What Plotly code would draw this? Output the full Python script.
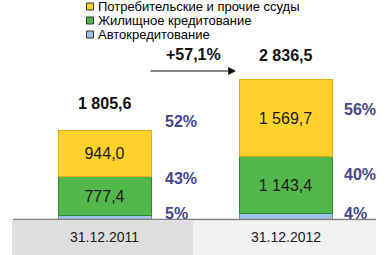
import plotly.graph_objects as go

# ---- data ----
categories = ["31.12.2011", "31.12.2012"]
series_names = ["Автокредитование", "Жилищное кредитование", "Потребительские и прочие ссуды"]
auto_vals = [84.2, 123.4]
housing_vals = [777.4, 1143.4]
consumer_vals = [944.0, 1569.7]
totals = [1805.6, 2836.5]
share_labels = {
    "consumer": ["52%", "56%"],
    "housing": ["43%", "40%"],
    "auto": ["5%", "4%"],
}
growth_label = "+57,1%"

colors = ["#9DC3E6", "#52B84C", "#FFD12A"]
line_colors = ["#6A8FB5", "#2F8A36", "#E0AC10"]

W, H = 387, 255
Y0_PX = 219.5          # pixel row of value 0
PX_PER_UNIT = 0.04943  # pixels per value unit
y_top = Y0_PX / PX_PER_UNIT
y_bot = -(H - Y0_PX) / PX_PER_UNIT

X0_PX = 104.5
X_STEP = 181.0
x_lo = -X0_PX / X_STEP
x_hi = (W - X0_PX) / X_STEP


def fmt(v):
    return f"{v:,.1f}".replace(",", " ").replace(".", ",")


def py2val(py):
    return (Y0_PX - py) / PX_PER_UNIT


FONT = "Liberation Sans, Arial, sans-serif"

fig = go.Figure()
series = [auto_vals, housing_vals, consumer_vals]
for i, (name, vals) in enumerate(zip(series_names, series)):
    fig.add_trace(go.Bar(
        x=categories, y=vals, name=name,
        marker=dict(color=colors[i], line=dict(color=line_colors[i], width=1)),
        width=93 / X_STEP,
        text=[fmt(v) for v in vals] if i > 0 else None,
        textposition="inside" if i > 0 else "none",
        insidetextanchor="middle",
        textfont=dict(family=FONT, size=16, color="#1a1a1a"),
        showlegend=False,
        hoverinfo="skip",
    ))

annotations = []
shapes = []

# category band
shapes.append(dict(type="rect", xref="paper", yref="paper",
                   x0=12 / W, x1=193 / W, y0=0, y1=1 - 221 / H,
                   fillcolor="#DEDEDE", line=dict(width=0), layer="below"))
shapes.append(dict(type="rect", xref="paper", yref="paper",
                   x0=193 / W, x1=376 / W, y0=0, y1=1 - 221 / H,
                   fillcolor="#F2F2F2", line=dict(width=0), layer="below"))
shapes.append(dict(type="line", xref="paper", yref="y",
                   x0=13 / W, x1=376 / W, y0=0, y1=0,
                   line=dict(color="#7F7F7F", width=1.5)))

for i, c in enumerate(categories):
    annotations.append(dict(x=c, y=py2val(237), xref="x", yref="y", text=c,
                            showarrow=False, xanchor="center", yanchor="middle",
                            font=dict(family=FONT, size=14, color="#1a1a1a")))

# totals
total_py = [103, 55]
for i, c in enumerate(categories):
    annotations.append(dict(x=c, y=py2val(total_py[i]), xref="x", yref="y",
                            text=f"<b>{fmt(totals[i])}</b>", showarrow=False,
                            xanchor="center", yanchor="middle",
                            font=dict(family=FONT, size=16, color="#111111")))

# shares
share_pos = {
    "consumer": [(181, 121), (360, 109)],
    "housing": [(181, 178), (360, 174)],
    "auto": [(176, 213), (355, 213)],
}
for key, labs in share_labels.items():
    for i, c in enumerate(categories):
        px, pyy = share_pos[key][i]
        annotations.append(dict(x=c, y=py2val(pyy), xref="x", yref="y",
                                xshift=px - (X0_PX + i * X_STEP),
                                xanchor="center", yanchor="middle",
                                text=f"<b>{labs[i]}</b>", showarrow=False,
                                font=dict(family=FONT, size=16, color="#45458F")))

# growth label and arrow
annotations.append(dict(x=193 / W, y=1 - 54 / H, xref="paper", yref="paper",
                        xanchor="center", yanchor="middle",
                        text=f"<b>{growth_label}</b>", showarrow=False,
                        font=dict(family=FONT, size=16, color="#111111")))
annotations.append(dict(x=236 / W, y=1 - 71 / H, xref="paper", yref="paper",
                        ax=-87, ay=0, axref="pixel", ayref="pixel",
                        text="", showarrow=True, arrowhead=2, arrowsize=1.3,
                        arrowwidth=1.2, arrowcolor="#111111"))

# manual legend (top-down: consumer, housing, auto)
legend_rows = [(series_names[2], colors[2], 6.5), (series_names[1], colors[1], 20.5),
               (series_names[0], colors[0], 34.5)]
for name, col, pyy in legend_rows:
    shapes.append(dict(type="rect", xref="paper", yref="paper",
                       x0=86.5 / W, x1=93.5 / W, y0=1 - (pyy + 3.5) / H, y1=1 - (pyy - 3.5) / H,
                       fillcolor=col, line=dict(color="#333333", width=1)))
    annotations.append(dict(x=96 / W, y=1 - pyy / H, xref="paper", yref="paper",
                            xanchor="left", yanchor="middle", text=name,
                            showarrow=False,
                            font=dict(family=FONT, size=13, color="#000000")))

fig.update_layout(
    width=W, height=H,
    margin=dict(l=0, r=0, t=0, b=0),
    paper_bgcolor="white", plot_bgcolor="white",
    barmode="stack",
    xaxis=dict(range=[x_lo, x_hi], visible=False, type="category"),
    yaxis=dict(range=[y_bot, y_top], visible=False),
    annotations=annotations,
    shapes=shapes,
    showlegend=False,
)

fig.write_html("out.html")
